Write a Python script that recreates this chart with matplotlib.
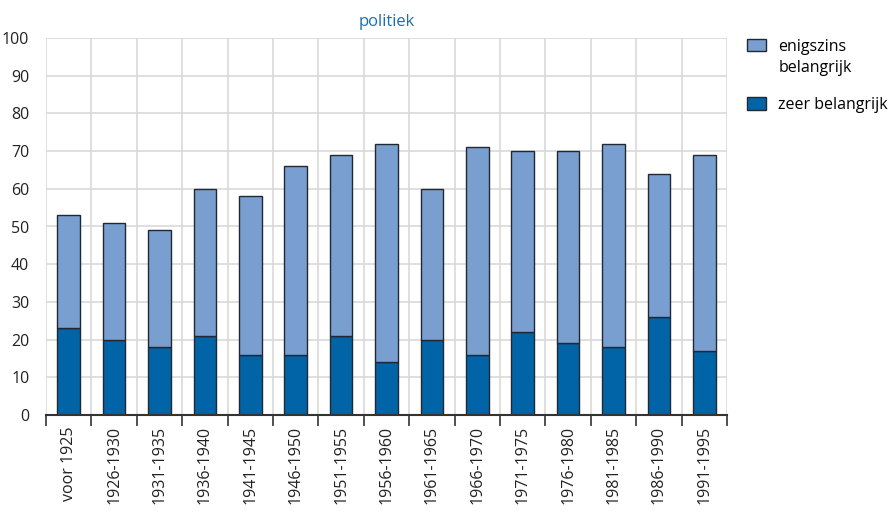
import numpy as np
import matplotlib.pyplot as plt
from matplotlib.patches import Patch, Rectangle
from matplotlib.legend_handler import HandlerPatch

periodes = ['voor 1925', '1926-1930', '1931-1935', '1936-1940', '1941-1945',
            '1946-1950', '1951-1955', '1956-1960', '1961-1965', '1966-1970',
            '1971-1975', '1976-1980', '1981-1985', '1986-1990', '1991-1995']
zeer = [23, 20, 18, 21, 16, 16, 21, 14, 20, 16, 22, 19, 18, 26, 17]
totaal = [53, 51, 49, 60, 58, 66, 69, 72, 60, 71, 70, 70, 72, 64, 69]
enigszins = [t - z for t, z in zip(totaal, zeer)]

donker = '#0064a7'
licht = '#789fcf'
rand = '#222831'

plt.rcParams['font.family'] = ['Open Sans', 'DejaVu Sans']
plt.rcParams['font.size'] = 11.5

fig = plt.figure(figsize=(8.91, 5.11), dpi=100)
ax = fig.add_axes([46 / 891, 1 - 415 / 511, (727 - 46) / 891, (415 - 38) / 511])

x = np.arange(len(periodes))
ax.bar(x, zeer, width=0.5, color=donker, edgecolor=rand, linewidth=1.0, zorder=3)
ax.bar(x, enigszins, width=0.5, bottom=zeer, color=licht, edgecolor=rand, linewidth=1.0, zorder=3)

ax.set_xlim(-0.5, len(periodes) - 0.5)
ax.set_ylim(0, 100)
ax.set_yticks(range(0, 101, 10))
ax.set_xticks(x)
ax.set_xticklabels(periodes, rotation=90, va='top', ha='center', color='#222222')
ax.set_xticks(np.arange(-0.5, len(periodes), 1), minor=True)
ax.tick_params(axis='x', which='major', length=0, pad=8)
ax.tick_params(axis='x', which='minor', length=8, width=1.2, color='#333333', direction='out')
ax.tick_params(axis='y', length=0, pad=12, labelcolor='#222222')

ax.grid(axis='y', which='major', color='#d9d9d9', linewidth=1.2, zorder=0)
ax.grid(axis='x', which='minor', color='#d9d9d9', linewidth=1.2, zorder=0)
for s in ['left', 'right', 'top']:
    ax.spines[s].set_visible(False)
ax.spines['bottom'].set_color('#333333')
ax.spines['bottom'].set_linewidth(1.5)
ax.spines['bottom'].set_zorder(4)

ax.set_title('politiek', color='#1a6fb0', fontsize=12, pad=9)


# zet het blokje bij de eerste regel van een label met twee regels
def bovenste_regel(legend, orig_handle, xdescent, ydescent, width, height, fontsize):
    return Rectangle((-xdescent, -ydescent + 0.7 * fontsize * 1.2), width, height)


handles = [Patch(facecolor=licht, edgecolor=rand, label='enigszins\nbelangrijk'),
           Patch(facecolor=donker, edgecolor=rand, label='zeer belangrijk')]
leg = ax.legend(handles=handles, loc='upper left', bbox_to_anchor=(1.02, 1.013), frameon=False,
                handlelength=1.2, handleheight=0.85, handletextpad=0.75, labelspacing=1.3,
                fontsize=11.5, borderaxespad=0,
                handler_map={handles[0]: HandlerPatch(patch_func=bovenste_regel)})
for t in leg.get_texts():
    t.set_linespacing(1.4)

fig.savefig('out.png', dpi=100)
